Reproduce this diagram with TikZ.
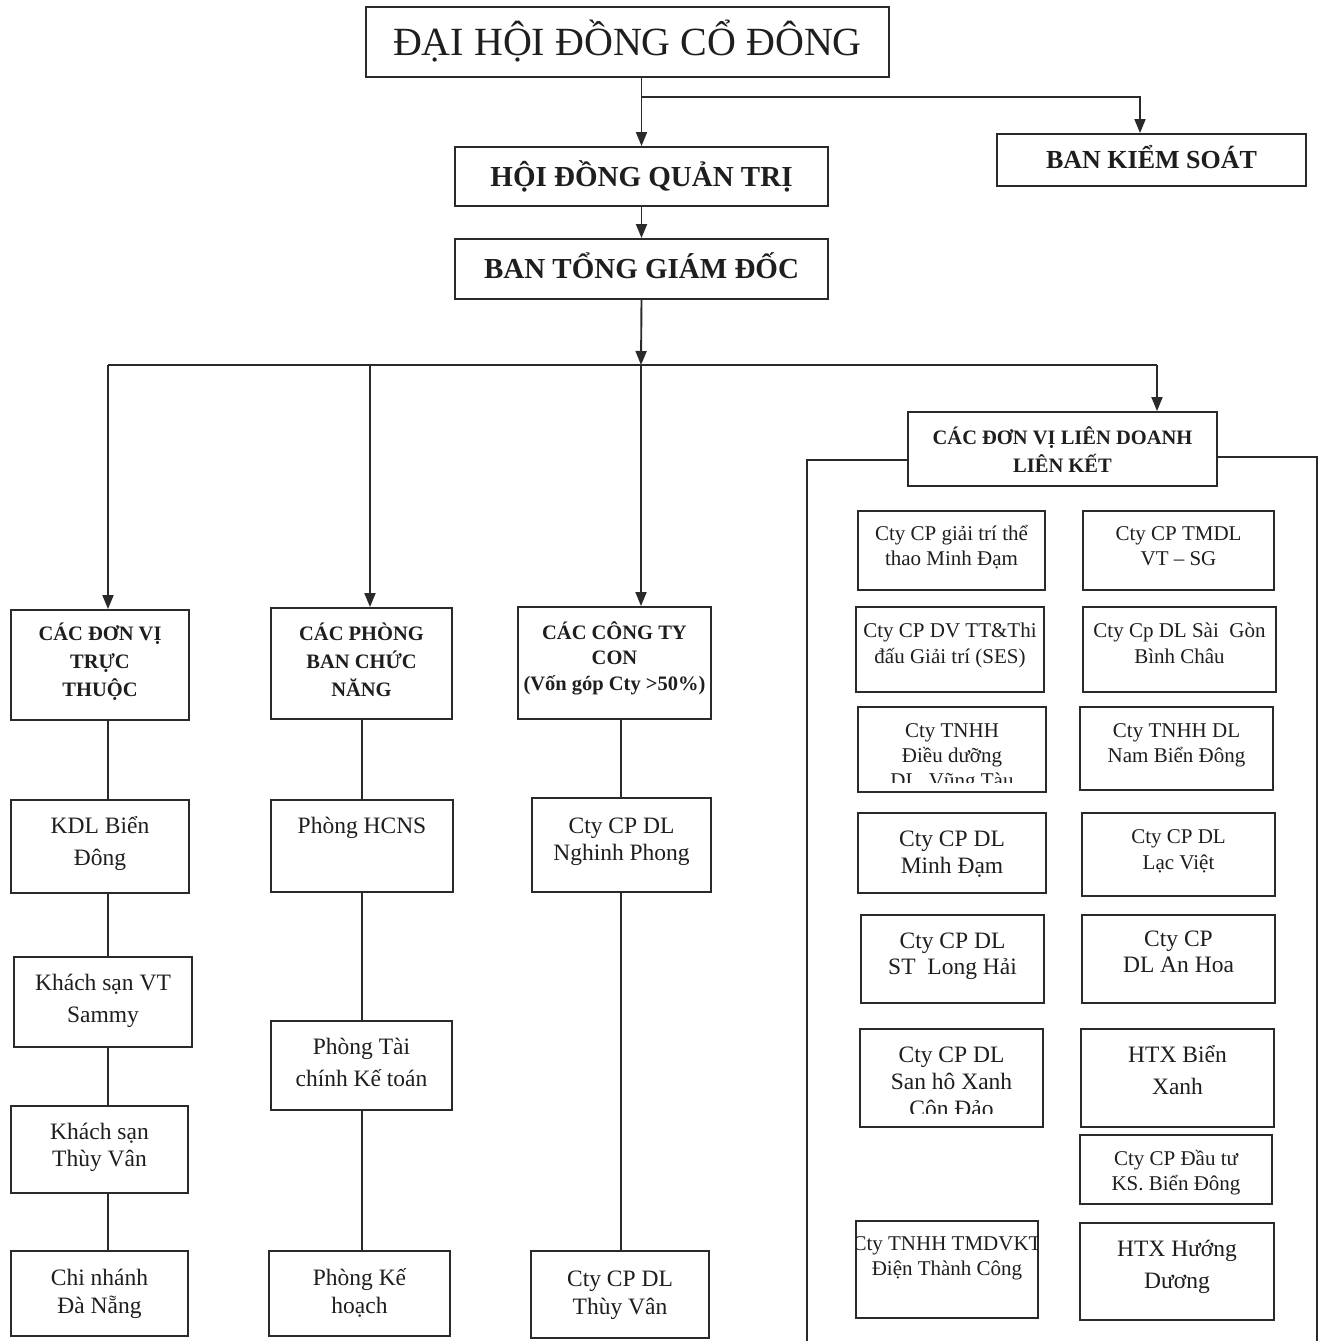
\documentclass[tikz,border=0pt]{standalone}
\usepackage{fontspec}
\setmainfont{Liberation Serif}
\usetikzlibrary{arrows.meta}
\definecolor{ink}{HTML}{2A2A2A}
\definecolor{txt}{HTML}{1E1E1E}
\tikzset{
  bx/.style={draw=ink, line width=1.9pt, inner sep=0pt},
  ln/.style={draw=ink, line width=1.9pt},
  arr/.style={ln, -{Triangle[length=14pt,width=11pt]}},
  txtA/.style={font=\fontsize{23.5}{#1}\selectfont, text=txt, align=center, inner sep=0pt, anchor=north, yshift=15.7pt},
  txtB/.style={font=\fontsize{21}{#1}\selectfont, text=txt, align=center, inner sep=0pt, anchor=north, yshift=14.1pt},
  hdr/.style={font=\bfseries\fontsize{20.5}{#1}\selectfont, text=txt, align=center, inner sep=0pt, anchor=north, yshift=13.7pt},
}
% name, x1, y1, x2, y2, first-line y, text style, text
\newcommand\ubox[8]{%
  \node[bx, minimum width={(#4-#2)*1pt}, minimum height={(#5-#3)*1pt}] (#1) at ({(#2+#4)/2},{(#3+#5)/2}) {};
  \node[#7] (#1-t) at ({(#2+#4)/2},#6) {\rule{0pt}{1em}#8};
}
% same, with text clipped to (x1,y1)-(x2,#9)
\newcommand\uboxc[9]{%
  \node[bx, minimum width={(#4-#2)*1pt}, minimum height={(#5-#3)*1pt}] (#1) at ({(#2+#4)/2},{(#3+#5)/2}) {};
  \begin{scope}
    \clip (#2,#3) rectangle (#4,#9);
    \node[#7] (#1-t) at ({(#2+#4)/2},#6) {\rule{0pt}{1em}#8};
  \end{scope}
}
\begin{document}
\begin{tikzpicture}[x=1pt,y=-1pt]
\fill[white] (0,0) rectangle (1324,1341);
\useasboundingbox (0,0) rectangle (1324,1341);

% top levels
\node[bx, minimum width=523pt, minimum height=70pt, font=\fontsize{40}{48}\selectfont, text=txt, text height=26.4pt, text depth=0pt] (dh) at (627.5,42) {ĐẠI HỘI ĐỒNG CỔ ĐÔNG};
\node[bx, minimum width=373pt, minimum height=59pt, font=\bfseries\fontsize{29}{34}\selectfont, text=txt, text height=19.2pt, text depth=0pt] (hd) at (641.5,176.5) {HỘI ĐỒNG QUẢN TRỊ};
\node[bx, minimum width=309pt, minimum height=52pt, font=\bfseries\fontsize{26}{30}\selectfont, text=txt, text height=17.2pt, text depth=0pt] (bks) at (1151.5,160) {BAN KIỂM SOÁT};
\node[bx, minimum width=373pt, minimum height=60pt, font=\bfseries\fontsize{29}{34}\selectfont, text=txt, text height=19.2pt, text depth=0pt] (bt) at (641.5,269) {BAN TỔNG GIÁM ĐỐC};

% column 1
\ubox{c1}{11}{610}{189}{720}{633}{hdr=28}{CÁC ĐƠN VỊ\\TRỰC\\THUỘC}
\ubox{i1}{11}{800}{189}{893}{825}{txtA=32}{KDL Biển\\Đông}
\ubox{i2}{14}{957}{192}{1047}{982}{txtA=32}{Khách sạn VT\\Sammy}
\ubox{i3}{11}{1106}{188}{1193}{1131}{txtA=27}{Khách sạn\\Thùy Vân}
\ubox{i4}{11}{1251}{188}{1336}{1277}{txtA=28}{Chi nhánh\\Đà Nẵng}
% column 2
\ubox{c2}{271}{608}{452}{719}{633}{hdr=28}{CÁC PHÒNG\\BAN CHỨC\\NĂNG}
\ubox{p1}{271}{800}{453}{892}{825}{txtA=28}{Phòng HCNS}
\ubox{p2}{271}{1021}{452}{1110}{1046}{txtA=32}{Phòng Tài\\chính Kế toán}
\ubox{p3}{269}{1251}{450}{1336}{1277}{txtA=28}{Phòng Kế\\hoạch}
% column 3
\ubox{c3}{518}{607}{711}{719}{632}{hdr=25.5}{CÁC CÔNG TY\\CON\\(Vốn góp Cty >50\%)}
\ubox{s1}{532}{798}{711}{892}{825}{txtA=27}{Cty CP DL\\Nghinh Phong}
\ubox{s2}{531}{1251}{709}{1338}{1278}{txtA=28}{Cty CP DL\\Thùy Vân}
% column 4
\ubox{ld}{908}{412}{1217}{486}{437}{hdr=28}{CÁC ĐƠN VỊ LIÊN DOANH\\LIÊN KẾT}
\ubox{r1}{858}{511}{1045}{590}{533}{txtB=25}{Cty CP giải trí thể\\thao Minh Đạm}
\ubox{r2}{1083}{511}{1274}{590}{533}{txtB=25}{Cty CP TMDL\\VT – SG}
\ubox{r3}{856}{607}{1044}{692}{630}{txtB=26}{Cty CP DV TT\&Thi\\đấu Giải trí (SES)}
\ubox{r4}{1083}{607}{1276}{692}{630}{txtB=26}{Cty Cp DL Sài~ Gòn\\Bình Châu}
\uboxc{r5}{858}{707}{1046}{792}{730}{txtB=25}{Cty TNHH\\Điều dưỡng\\DL~ Vũng Tàu}{782}
\ubox{r6}{1080}{707}{1273}{790}{730}{txtB=25}{Cty TNHH DL\\Nam Biển Đông}
\ubox{r7}{858}{813}{1046}{893}{838}{txtA=27}{Cty CP DL\\Minh Đạm}
\ubox{r8}{1082}{813}{1275}{896}{836}{txtB=26}{Cty CP DL\\Lạc Việt}
\ubox{r9}{861}{915}{1044}{1003}{940}{txtA=26}{Cty CP DL\\ST~ Long Hải}
\ubox{r10}{1082}{915}{1275}{1003}{938}{txtA=26}{Cty CP\\DL An Hoa}
\uboxc{r11}{860}{1029}{1043}{1127}{1054}{txtA=27}{Cty CP DL\\San hô Xanh\\Côn Đảo}{1113}
\ubox{r12}{1081}{1029}{1274}{1127}{1054}{txtA=32}{HTX Biển\\Xanh}
\ubox{r13}{1080}{1135}{1272}{1204}{1158}{txtB=25}{Cty CP Đầu tư\\KS. Biển Đông}
\uboxc{r14}{856}{1221}{1038}{1318}{1243}{txtB=25}{Cty TNHH TMDVKT\\Điện Thành Công}{1318}
\ubox{r15}{1080}{1223}{1274}{1320}{1248}{txtA=32}{HTX Hướng\\Dương}

% frame around joint ventures
\draw[ln] (807,1345) -- (807,460) -- (908,460);
\draw[ln] (1217,457) -- (1317,457) -- (1317,1345);

% connectors
\coordinate (j1) at (641,97);
\coordinate (hub) at (641,365);
\coordinate (b1) at (108,365);
\coordinate (b2) at (370,365);
\coordinate (b4) at (1157,365);
\draw[arr] (dh.south -| hd.north) -- (hd.north);
\draw[arr] (j1) -| ([xshift=-11.5pt]bks.north);
\draw[arr] (hd.south) -- (bt.north);
\draw[arr] (bt.south) -- (hub);
\draw[ln] (b1) -- (b4);
\draw[arr] (b1) -- (b1 |- c1.north);
\draw[arr] (b2) -- (b2 |- c2.north);
\draw[arr] (hub) -- (hub |- c3.north);
\draw[arr] (b4) -- (b4 |- ld.north);

\coordinate (v1) at (108,0);
\coordinate (v2) at (362,0);
\coordinate (v3) at (621,0);
\draw[ln] (c1.south -| v1) -- (i1.north -| v1);
\draw[ln] (i1.south -| v1) -- (i2.north -| v1);
\draw[ln] (i2.south -| v1) -- (i3.north -| v1);
\draw[ln] (i3.south -| v1) -- (i4.north -| v1);
\draw[ln] (c2.south -| v2) -- (p1.north -| v2);
\draw[ln] (p1.south -| v2) -- (p2.north -| v2);
\draw[ln] (p2.south -| v2) -- (p3.north -| v2);
\draw[ln] (c3.south -| v3) -- (s1.north -| v3);
\draw[ln] (s1.south -| v3) -- (s2.north -| v3);
\end{tikzpicture}
\end{document}
